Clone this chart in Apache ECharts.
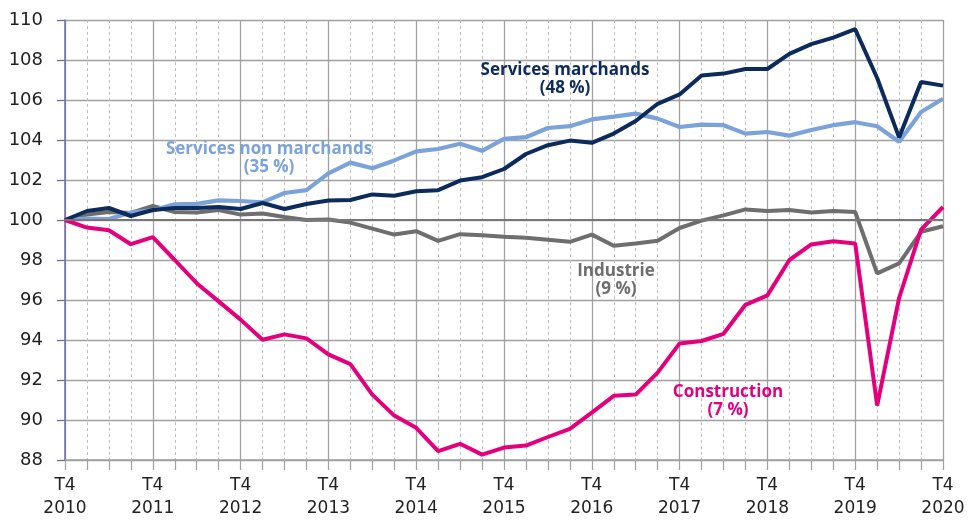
<!DOCTYPE html>
<html>
<head>
<meta charset="utf-8">
<script src="https://cdn.jsdelivr.net/npm/echarts@6/dist/echarts.min.js"></script>
<style>
  html, body { margin: 0; padding: 0; background: #fff; }
  #chart { width: 968px; height: 520px; }
</style>
</head>
<body>
<div id="chart"></div>
<script>
// trimestres : T4 2010 -> T4 2020
var years = [2010, 2011, 2012, 2013, 2014, 2015, 2016, 2017, 2018, 2019, 2020];
var quarters = ['T1', 'T2', 'T3', 'T4'];
var categories = ['T4 2010'];
years.slice(1).forEach(function (y) {
  quarters.forEach(function (q) { categories.push(q + ' ' + y); });
});

var yTicks = { min: 88, max: 110, step: 2 };

var servicesMarchands = [
  100, 100.45, 100.6, 100.2, 100.5, 100.6, 100.6, 100.65, 100.55, 100.85,
  100.55, 100.8, 100.97, 101.0, 101.28, 101.21, 101.44, 101.49, 101.97, 102.14,
  102.55, 103.3, 103.74, 103.97, 103.86, 104.32, 104.95, 105.81, 106.28, 107.22,
  107.32, 107.55, 107.55, 108.31, 108.79, 109.12, 109.54, 107.1, 104.13, 106.9,
  106.72
];
var servicesNonMarchands = [
  100, 100.07, 100.05, 100.38, 100.48, 100.78, 100.81, 100.98, 100.95, 100.88,
  101.35, 101.49, 102.33, 102.87, 102.59, 102.98, 103.43, 103.55, 103.81, 103.46,
  104.06, 104.14, 104.6, 104.69, 105.03, 105.17, 105.32, 105.07, 104.65, 104.77,
  104.74, 104.32, 104.4, 104.22, 104.5, 104.74, 104.89, 104.69, 103.91, 105.4,
  106.06
];
var industrie = [
  100, 100.27, 100.4, 100.35, 100.7, 100.4, 100.38, 100.5, 100.27, 100.32,
  100.15, 100.0, 100.02, 99.87, 99.57, 99.27, 99.44, 98.96, 99.29, 99.24,
  99.16, 99.11, 99.01, 98.91, 99.27, 98.71, 98.83, 98.96, 99.6, 99.97,
  100.23, 100.53, 100.45, 100.5, 100.38, 100.45, 100.4, 97.33, 97.83, 99.41,
  99.69
];
var construction = [
  100, 99.62, 99.49, 98.79, 99.14, 98.0, 96.84, 95.93, 95.02, 94.01,
  94.28, 94.08, 93.28, 92.79, 91.27, 90.22, 89.61, 88.44, 88.81, 88.27,
  88.62, 88.72, 89.15, 89.56, 90.37, 91.21, 91.27, 92.37, 93.83, 93.95,
  94.31, 95.76, 96.23, 98.0, 98.78, 98.94, 98.83, 90.72, 96.1, 99.52,
  100.65
];

var colors = {
  marchands: '#0c2b5c',
  nonMarchands: '#7ba3da',
  industrie: '#6e6e6e',
  construction: '#e4007c'
};

var chart = echarts.init(document.getElementById('chart'));

function label(text, sub, x, y, color) {
  return {
    type: 'text',
    x: x,
    y: y,
    z: 100,
    style: {
      text: text + '\n' + sub,
      fill: color,
      font: 'bold 17px "Open Sans", sans-serif',
      lineHeight: 18,
      align: 'center',
      verticalAlign: 'top'
    }
  };
}

chart.setOption({
  animation: false,
  grid: { left: 65, right: 25, top: 20, bottom: 57 },
  xAxis: [
    {
      type: 'category',
      data: categories,
      boundaryGap: false,
      axisLine: { lineStyle: { color: '#a0a0a0', width: 1.5 } },
      axisTick: { show: true, interval: 0, length: 10, lineStyle: { color: '#a0a0a0', width: 1.2 } },
      axisLabel: {
        interval: function (i) { return i % 4 === 0; },
        formatter: function (v) { return v.replace(' ', '\n'); },
        fontFamily: 'DejaVu Sans',
        fontSize: 17,
        lineHeight: 23,
        color: '#222',
        margin: 14
      },
      splitLine: {
        show: true,
        interval: function (i) { return i % 4 === 0; },
        lineStyle: { color: '#a0a0a0', width: 1.3 }
      }
    },
    {
      type: 'category',
      data: categories,
      boundaryGap: false,
      position: 'bottom',
      axisLine: { show: false },
      axisTick: { show: false },
      axisLabel: { show: false },
      splitLine: {
        show: true,
        interval: function (i) { return i % 4 !== 0; },
        lineStyle: { color: '#bdbdbd', width: 1, type: [3, 3] }
      }
    }
  ],
  yAxis: {
    type: 'value',
    min: yTicks.min,
    max: yTicks.max,
    interval: yTicks.step,
    axisLine: { show: true, lineStyle: { color: '#6c6ca8', width: 1.5 } },
    axisTick: { show: true, length: 8, lineStyle: { color: '#6c6ca8', width: 1.3 } },
    axisLabel: {
      fontFamily: 'DejaVu Sans',
      fontSize: 18,
      color: '#222',
      margin: 22
    },
    splitLine: { lineStyle: { color: '#a0a0a0', width: 1.3 } }
  },
  series: [
    {
      name: 'Industrie',
      type: 'line',
      data: industrie,
      symbol: 'none',
      lineStyle: { color: colors.industrie, width: 4 },
      markLine: {
        silent: true,
        symbol: 'none',
        label: { show: false },
        lineStyle: { color: '#777', width: 2.2, type: 'solid' },
        data: [{ yAxis: 100 }]
      }
    },
    {
      name: 'Services non marchands',
      type: 'line',
      data: servicesNonMarchands,
      symbol: 'none',
      lineStyle: { color: colors.nonMarchands, width: 4.2 }
    },
    {
      name: 'Services marchands',
      type: 'line',
      data: servicesMarchands,
      symbol: 'none',
      lineStyle: { color: colors.marchands, width: 4 }
    },
    {
      name: 'Construction',
      type: 'line',
      data: construction,
      symbol: 'none',
      lineStyle: { color: colors.construction, width: 4 }
    }
  ],
  graphic: [
    label('Services marchands', '(48 %)', 565, 61, colors.marchands),
    label('Services non marchands', '(35 %)', 269, 140, colors.nonMarchands),
    label('Industrie', '(9 %)', 616, 262, colors.industrie),
    label('Construction', '(7 %)', 728, 383, colors.construction)
  ]
});
</script>
</body>
</html>
